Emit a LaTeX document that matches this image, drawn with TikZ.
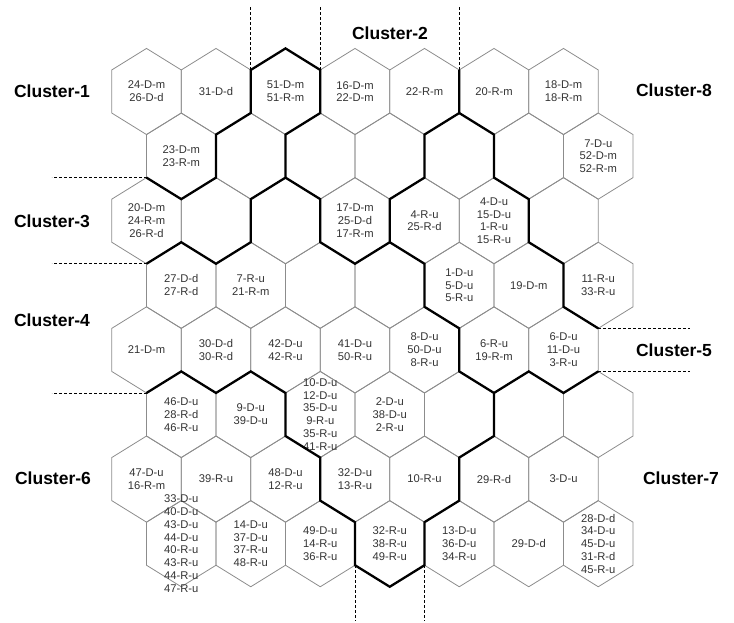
\documentclass[tikz,border=0pt]{standalone}
\usepackage{fontspec}
\setmainfont{Liberation Sans}
\usepackage{tikz}

\tikzset{
  hexline/.style={draw=black!45, line width=0.8pt},
  border/.style={line width=2.3pt, line join=miter},
  cut/.style={line width=0.8pt, dash pattern=on 3pt off 2pt},
  celltext/.style={align=center, text=black!80, inner sep=0pt,
    font=\fontsize{11.2}{12.8}\selectfont},
  clabel/.style={inner sep=0pt, font=\fontsize{17.5}{20}\selectfont\bfseries},
}

\begin{document}
\begin{tikzpicture}[x=1pt, y=-1pt]
\useasboundingbox (0,0) rectangle (734,623);

% the cells, 8 rows of 7
\foreach \r in {1,...,8} {
  \foreach \c in {1,...,7} {
    \pgfmathsetmacro\hx{146.5+69.5*(\c-1)+34.75*mod(\r+1,2)}
    \pgfmathsetmacro\hy{91.5+64.6*(\r-1)}
    \draw[hexline] (\hx,\hy) ++(0,-43.07) -- ++(34.75,21.53) -- ++(0,43.07)
      -- ++(-34.75,21.53) -- ++(-34.75,-21.53) -- ++(0,-43.07) -- cycle;
    \coordinate (h\r-\c) at (\hx,\hy);
  }
}

% corners of the cells
\foreach \i in {0,...,15} {
  \foreach \k in {0,...,17} {
    \pgfmathsetmacro\vy{48.43+64.6*floor(\k/2)+21.53*mod(\k,2)}
    \coordinate (v\i-\k) at ({111.75+34.75*\i},\vy);
  }
}

% cell contents
\foreach \r/\c/\txt in {
  1/1/{24-D-m\\26-D-d}, 1/2/{31-D-d}, 1/3/{51-D-m\\51-R-m}, 1/4/{16-D-m\\22-D-m},
  1/5/{22-R-m}, 1/6/{20-R-m}, 1/7/{18-D-m\\18-R-m},
  2/1/{23-D-m\\23-R-m}, 2/7/{7-D-u\\52-D-m\\52-R-m},
  3/1/{20-D-m\\24-R-m\\26-R-d}, 3/4/{17-D-m\\25-D-d\\17-R-m}, 3/5/{4-R-u\\25-R-d},
  3/6/{4-D-u\\15-D-u\\1-R-u\\15-R-u},
  4/1/{27-D-d\\27-R-d}, 4/2/{7-R-u\\21-R-m}, 4/5/{1-D-u\\5-D-u\\5-R-u},
  4/6/{19-D-m}, 4/7/{11-R-u\\33-R-u},
  5/1/{21-D-m}, 5/2/{30-D-d\\30-R-d}, 5/3/{42-D-u\\42-R-u}, 5/4/{41-D-u\\50-R-u},
  5/5/{8-D-u\\50-D-u\\8-R-u}, 5/6/{6-R-u\\19-R-m}, 5/7/{6-D-u\\11-D-u\\3-R-u},
  6/1/{46-D-u\\28-R-d\\46-R-u}, 6/2/{9-D-u\\39-D-u},
  6/3/{10-D-u\\12-D-u\\35-D-u\\9-R-u\\35-R-u\\41-R-u}, 6/4/{2-D-u\\38-D-u\\2-R-u},
  7/1/{47-D-u\\16-R-m}, 7/2/{39-R-u}, 7/3/{48-D-u\\12-R-u}, 7/4/{32-D-u\\13-R-u},
  7/5/{10-R-u}, 7/6/{29-R-d}, 7/7/{3-D-u},
  8/1/{33-D-u\\40-D-u\\43-D-u\\44-D-u\\40-R-u\\43-R-u\\44-R-u\\47-R-u},
  8/2/{14-D-u\\37-D-u\\37-R-u\\48-R-u}, 8/3/{49-D-u\\14-R-u\\36-R-u},
  8/4/{32-R-u\\38-R-u\\49-R-u}, 8/5/{13-D-u\\36-D-u\\34-R-u}, 8/6/{29-D-d},
  8/7/{28-D-d\\34-D-u\\45-D-u\\31-R-d\\45-R-u}}
  \node[celltext] (t\r-\c) at (h\r-\c) {\txt};

% cluster borders
\draw[border] (v1-4) -- (v2-5) -- (v3-4) -- (v3-3) -- (v4-2) -- (v4-1) -- (v5-0)
  -- (v6-1) -- (v6-2) -- (v5-3) -- (v5-4) -- (v4-5) -- (v4-6) -- (v3-7) -- (v2-6) -- (v1-7);
\draw[border] (v5-4) -- (v6-5) -- (v6-6) -- (v7-7) -- (v8-6) -- (v8-5) -- (v9-4)
  -- (v9-3) -- (v10-2) -- (v10-1);
\draw[border] (v10-2) -- (v11-3) -- (v11-4) -- (v12-5) -- (v12-6) -- (v13-7) -- (v13-8) -- (v14-9);
\draw[border] (v8-6) -- (v9-7) -- (v9-8) -- (v10-9) -- (v10-10) -- (v11-11) -- (v12-10)
  -- (v13-11) -- (v14-10);
\draw[border] (v11-11) -- (v11-12) -- (v10-13) -- (v10-14) -- (v9-15) -- (v9-16) -- (v8-17)
  -- (v7-16) -- (v7-15) -- (v6-14) -- (v6-13) -- (v5-12) -- (v5-11) -- (v4-10) -- (v3-11)
  -- (v2-10) -- (v1-11);

% dashed cuts
\foreach \v in {v4-1,v6-1,v10-1} \draw[cut] (\v) -- ++(0,-64);
\foreach \v in {v1-4,v1-7,v1-11} \draw[cut] (\v) -- ++(-95,0);
\foreach \v in {v14-9,v14-10} \draw[cut] (\v) -- ++(92,0);
\foreach \v in {v7-16,v9-16} \draw[cut] (\v) -- ++(0,56);

% cluster names
\node[clabel] (cl1) at (52,91) {Cluster-1};
\node[clabel] (cl2) at (390,33) {Cluster-2};
\node[clabel] (cl3) at (52,221) {Cluster-3};
\node[clabel] (cl4) at (52,320) {Cluster-4};
\node[clabel] (cl5) at (674,350) {Cluster-5};
\node[clabel] (cl6) at (53,478) {Cluster-6};
\node[clabel] (cl7) at (681,478) {Cluster-7};
\node[clabel] (cl8) at (674,90) {Cluster-8};
\end{tikzpicture}
\end{document}
